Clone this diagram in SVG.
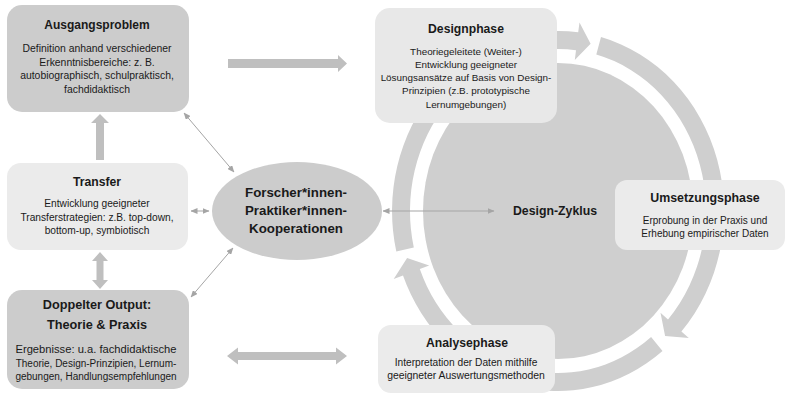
<svg xmlns="http://www.w3.org/2000/svg" width="789" height="395" viewBox="0 0 789 395">
<style>
  text { font-family: "Liberation Sans", Arial, sans-serif; fill: #1a1a1a; text-anchor: middle; }
  .t { font-weight: bold; }
  .dark { fill: #cccccc; }
  .light { fill: #ebebeb; }
  .ring { fill: #cfcfcf; }
  .thick { fill: #bfbfbf; }
  .thin { stroke: #a5a5a5; stroke-width: 1; fill: none; marker-start: url(#ah); marker-end: url(#ah); }
</style>
<defs>
  <marker id="ah" markerUnits="userSpaceOnUse" markerWidth="7" markerHeight="6" refX="6.5" refY="3" orient="auto-start-reverse">
    <path d="M0,0 L7,3 L0,6 Z" fill="#a5a5a5"/>
  </marker>
</defs>
<rect width="789" height="395" fill="#ffffff"/>

<g id="design-zyklus">
  <path class="ring" d="M396.3,251.5 A166,180 0 0 1 578.2,32.3 L579.5,22.4 L590.6,43.7 L574.8,60.1 L576,50.2 A148,162 0 0 0 413.8,247.5 Z"/>
  <path class="ring" d="M601,37.1 A166,180 0 0 1 681.4,331.4 L688.8,338.1 L665.1,336.1 L660.5,312.7 L668,319.4 A148,162 0 0 0 596.3,54.5 Z"/>
  <path class="ring" d="M662.5,350.9 A166,180 0 0 1 403,275.5 L393.7,279.1 L407.1,258.1 L429.2,265.5 L419.8,269.1 A148,162 0 0 0 651.1,336.9 Z"/>
  <ellipse class="ring" cx="558" cy="211" rx="135" ry="148"/>
  <text class="t" x="555" y="215" font-size="12.3">Design-Zyklus</text>
</g>

<g id="connectors">
  <polygon class="thick" points="228,59 338,59 338,55 347,63.5 338,72 338,68 228,68"/>
  <polygon class="thick" points="96,160 96,123 91,123 100,114 109,123 104,123 104,160"/>
  <polygon class="thick" points="100,252 108,261 103.5,261 103.5,280 108,280 100,289 92,280 96.5,280 96.5,261 92,261"/>
  <polygon class="thick" points="227,356 238,347.5 238,352 336,352 336,347.5 347,356 336,364.5 336,360 238,360 238,364.5"/>
  <line class="thin" x1="184" y1="113" x2="234" y2="172"/>
  <line class="thin" x1="191" y1="211" x2="209" y2="211"/>
  <line class="thin" x1="191" y1="297" x2="233" y2="248"/>
  <line class="thin" x1="383" y1="211" x2="494" y2="211"/>
</g>

<g id="ausgangsproblem">
  <rect class="dark" x="7" y="5" width="182" height="107" rx="15"/>
  <text class="t" x="97" y="29" font-size="12">Ausgangsproblem</text>
  <text x="97" y="52" font-size="10.4">Definition anhand verschiedener</text>
  <text x="97" y="65.5" font-size="10.4">Erkenntnisbereiche: z. B.</text>
  <text x="97" y="79" font-size="10.4">autobiographisch, schulpraktisch,</text>
  <text x="97" y="92.5" font-size="10.4">fachdidaktisch</text>
</g>

<g id="transfer">
  <rect class="light" x="7" y="163" width="181" height="87" rx="14"/>
  <text class="t" x="97" y="186" font-size="12.2">Transfer</text>
  <text x="97" y="207" font-size="10.2">Entwicklung geeigneter</text>
  <text x="97" y="221" font-size="10.2">Transferstrategien: z.B. top-down,</text>
  <text x="97" y="234" font-size="10.2">bottom-up, symbiotisch</text>
</g>

<g id="doppelter-output">
  <rect class="dark" x="7" y="290" width="182" height="99" rx="15"/>
  <text class="t" x="97" y="309" font-size="12.7">Doppelter Output:</text>
  <text class="t" x="97" y="329" font-size="12.7">Theorie &amp; Praxis</text>
  <text x="96" y="353" font-size="11.2">Ergebnisse: u.a. fachdidaktische</text>
  <text x="96" y="366.5" font-size="10">Theorie, Design-Prinzipien, Lernum-</text>
  <text x="96" y="380" font-size="10">gebungen, Handlungsempfehlungen</text>
</g>

<g id="kooperationen">
  <ellipse class="dark" cx="297" cy="211" rx="85" ry="49"/>
  <text class="t" x="296" y="197" font-size="13.3">Forscher*innen-</text>
  <text class="t" x="296" y="215" font-size="13.3">Praktiker*innen-</text>
  <text class="t" x="296" y="233" font-size="13.3">Kooperationen</text>
</g>

<g id="designphase">
  <rect x="375" y="8" width="182" height="115" rx="15" fill="#e8e8e8"/>
  <text class="t" x="466" y="33" font-size="12.2">Designphase</text>
  <text x="466" y="55" font-size="9.9">Theoriegeleitete (Weiter-)</text>
  <text x="466" y="68" font-size="9.9">Entwicklung geeigneter</text>
  <text x="466" y="81" font-size="9.9">Lösungsansätze auf Basis von Design-</text>
  <text x="466" y="94.3" font-size="9.9">Prinzipien (z.B. prototypische</text>
  <text x="466" y="107.5" font-size="9.9">Lernumgebungen)</text>
</g>

<g id="umsetzungsphase">
  <rect class="light" x="615" y="180" width="170" height="70" rx="12"/>
  <text class="t" x="705" y="202" font-size="12.4">Umsetzungsphase</text>
  <text x="705" y="224" font-size="10">Erprobung in der Praxis und</text>
  <text x="705" y="237" font-size="10">Erhebung empirischer Daten</text>
</g>

<g id="analysephase">
  <rect class="light" x="378" y="325" width="177" height="68" rx="13"/>
  <text class="t" x="467" y="347" font-size="12.2">Analysephase</text>
  <text x="466" y="366" font-size="10.2">Interpretation der Daten mithilfe</text>
  <text x="466" y="379" font-size="10.4">geeigneter Auswertungsmethoden</text>
</g>
</svg>
